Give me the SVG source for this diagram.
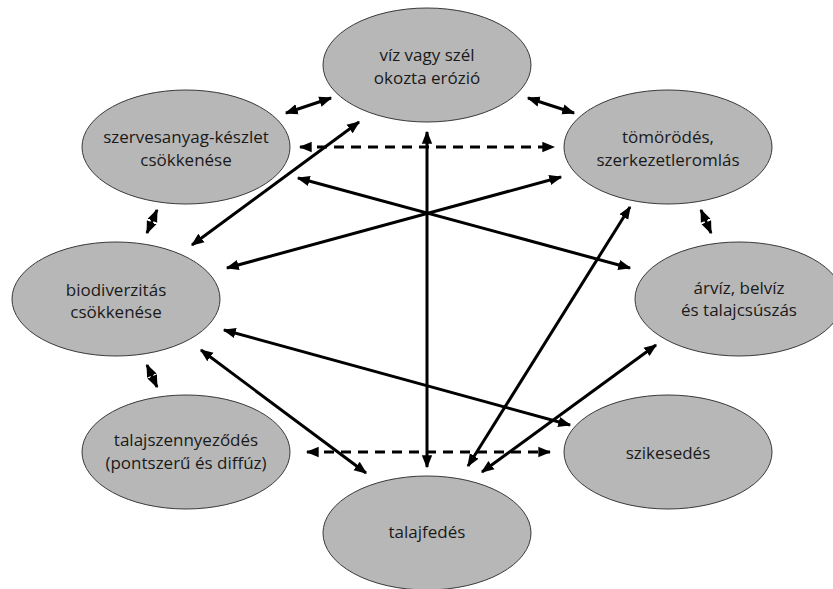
<svg xmlns="http://www.w3.org/2000/svg" width="833" height="589" viewBox="0 0 833 589">
<style>
.n{fill:#b7b7b7;stroke:#3a3a3a;stroke-width:1}
.t{font-family:"Open Sans","Liberation Sans",sans-serif;font-size:17px;fill:#1a1a1a;text-anchor:middle}
.c{stroke:#000;stroke-width:3;fill:none;marker-start:url(#ah);marker-end:url(#ah)}
.d{stroke-dasharray:10 7}
</style>
<defs>
<marker id="ah" viewBox="0 0 10 10" refX="9" refY="5" markerWidth="13" markerHeight="13" markerUnits="userSpaceOnUse" orient="auto-start-reverse">
<path d="M0,1 L10,5 L0,9 Z" fill="#000"/>
</marker>
</defs>
<rect width="833" height="589" fill="#fff"/>
<g id="n-erozio"><ellipse class="n" cx="427" cy="65" rx="104" ry="57"/><text class="t" x="427" y="61">víz vagy szél</text><text class="t" x="427" y="84">okozta erózió</text></g>
<g id="n-szerves"><ellipse class="n" cx="186" cy="147" rx="104" ry="57"/><text class="t" x="186" y="143">szervesanyag-készlet</text><text class="t" x="186" y="166">csökkenése</text></g>
<g id="n-tomor"><ellipse class="n" cx="668" cy="147" rx="104" ry="57"/><text class="t" x="668" y="143">tömörödés,</text><text class="t" x="668" y="166">szerkezetleromlás</text></g>
<g id="n-biodiv"><ellipse class="n" cx="116" cy="299" rx="104" ry="57"/><text class="t" x="116" y="296">biodiverzitás</text><text class="t" x="116" y="318">csökkenése</text></g>
<g id="n-arviz"><ellipse class="n" cx="739" cy="299" rx="104" ry="57"/><text class="t" x="739" y="294">árvíz, belvíz</text><text class="t" x="739" y="316">és talajcsúszás</text></g>
<g id="n-szenny"><ellipse class="n" cx="186" cy="452" rx="104" ry="57"/><text class="t" x="186" y="446">talajszennyeződés</text><text class="t" x="186" y="469">(pontszerű és diffúz)</text></g>
<g id="n-szik"><ellipse class="n" cx="668" cy="452" rx="104" ry="57"/><text class="t" x="668" y="459">szikesedés</text></g>
<g id="n-fedes"><ellipse class="n" cx="427" cy="533" rx="104" ry="57"/><text class="t" x="427" y="538">talajfedés</text></g>
<g id="connectors">
<line class="c" x1="286" y1="113" x2="331" y2="98"/>
<line class="c" x1="528" y1="98" x2="574" y2="113"/>
<line class="c d" x1="300" y1="147" x2="554" y2="147"/>
<line class="c" x1="157" y1="210" x2="147" y2="233"/>
<line class="c" x1="701" y1="210" x2="711" y2="233"/>
<line class="c" x1="147" y1="365" x2="157" y2="387"/>
<line class="c d" x1="307" y1="452" x2="550" y2="452"/>
<line class="c" x1="427" y1="132" x2="427" y2="467"/>
<line class="c" x1="192" y1="245" x2="359" y2="122"/>
<line class="c" x1="227" y1="268" x2="561" y2="177"/>
<line class="c" x1="298" y1="178" x2="630" y2="268"/>
<line class="c" x1="224" y1="330" x2="570" y2="425"/>
<line class="c" x1="201" y1="350" x2="366" y2="473"/>
<line class="c" x1="630" y1="207" x2="468" y2="466"/>
<line class="c" x1="656" y1="345" x2="482" y2="472"/>
</g>
</svg>
